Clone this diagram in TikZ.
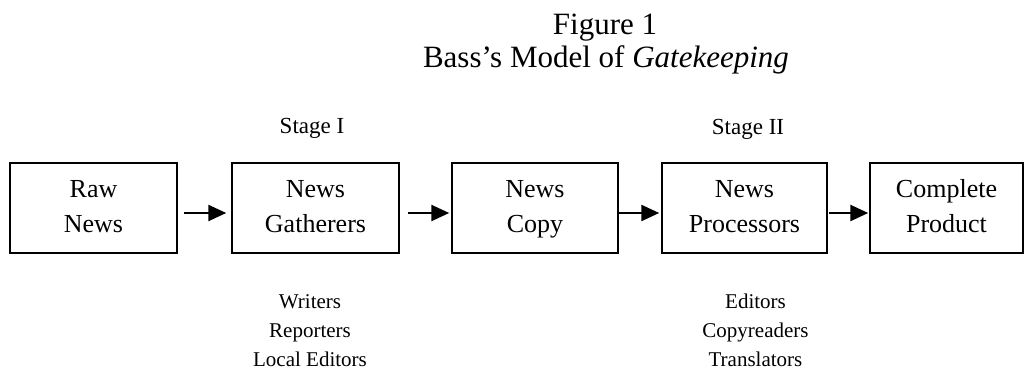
\documentclass[tikz,border=0pt]{standalone}
\usepackage{fontspec}
\setmainfont{Liberation Serif}
\usetikzlibrary{arrows.meta,calc}
\tikzset{
  box/.style={draw, line width=1.5pt, minimum height=90pt, align=center,
    font=\fontsize{26}{35}\selectfont, inner sep=0pt},
  flow/.style={line width=2.5pt, -{Triangle[length=18pt,width=16pt]}},
  stage/.style={anchor=base, font=\fontsize{23}{28}\selectfont, inner sep=0pt},
  roles/.style={anchor=base, align=center, font=\fontsize{21}{29}\selectfont, inner sep=0pt},
  title/.style={anchor=base, align=center, font=\fontsize{31}{33}\selectfont, inner sep=0pt}
}
\begin{document}
\begin{tikzpicture}[x=1pt,y=-1pt]
\useasboundingbox (0,0) rectangle (1026,369);
\node[title] (t1) at (605,35) {Figure 1};
\node[title] (t2) at (606,68) {Bass's Model of \textit{Gatekeeping}};

\node[box, minimum width=167pt] (b1) at (93.5,208) {\strut Raw\\\strut News};
\node[box, minimum width=167pt] (b2) at (315.5,208) {\strut News\\\strut Gatherers};
\node[box, minimum width=166pt] (b3) at (535,208) {\strut News\\\strut Copy};
\node[box, minimum width=165pt] (b4) at (744.5,208) {\strut News\\\strut Processors};
\node[box, minimum width=153pt] (b5) at (946.5,208) {\strut Complete\\\strut Product};

\draw[flow, shorten <=6pt, shorten >=5pt] ($(b1.east)+(0,5)$) -- ($(b2.west)+(0,5)$);
\draw[flow, shorten <=8pt, shorten >=2pt] ($(b2.east)+(0,5)$) -- ($(b3.west)+(0,5)$);
\draw[flow, shorten <=0pt, shorten >=2pt] ($(b3.east)+(0,5)$) -- ($(b4.west)+(0,5)$);
\draw[flow, shorten <=1pt, shorten >=1pt] ($(b4.east)+(0,5)$) -- ($(b5.west)+(0,5)$);

\node[stage] (s1) at (312,133) {Stage I};
\node[stage] (s2) at (748,135) {Stage II};

\node[roles] (r1a) at (310,308) {Writers};
\node[roles] (r1b) at (310,337) {Reporters};
\node[roles] (r1c) at (310,366) {Local Editors};
\node[roles] (r2a) at (755.5,308) {Editors};
\node[roles] (r2b) at (755.5,337) {Copyreaders};
\node[roles] (r2c) at (755.5,366) {Translators};
\end{tikzpicture}
\end{document}
